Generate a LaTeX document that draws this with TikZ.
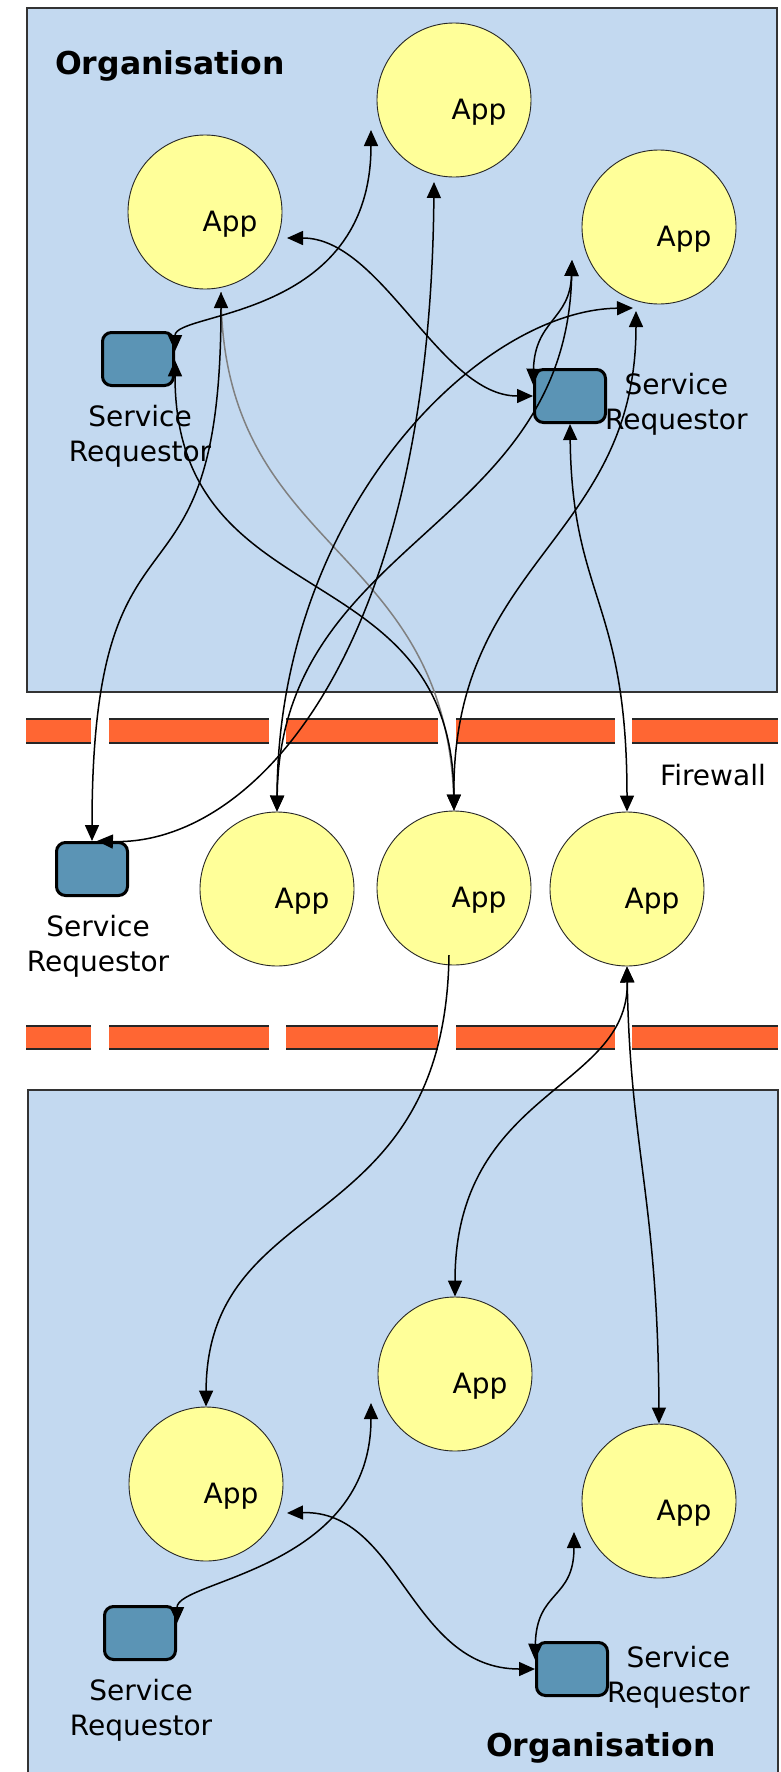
\documentclass[tikz,border=0pt]{standalone}
\usepackage{fontspec}
\setmainfont{DejaVu Sans}
\usetikzlibrary{arrows.meta,positioning}
\definecolor{orgblue}{RGB}{195,217,240}
\definecolor{appyellow}{RGB}{255,255,153}
\definecolor{reqblue}{RGB}{91,148,181}
\definecolor{wallred}{RGB}{255,102,51}
\begin{document}
\begin{tikzpicture}[x=1pt,y=-1pt,
    app/.style={circle,draw=black!85,line width=0.9pt,fill=appyellow,minimum size=154pt,inner sep=0pt,
        label={[font=\fontsize{28}{34}\selectfont,xshift=25pt,yshift=-12pt]center:App}},
    req/.style={rectangle,rounded corners=9pt,draw=black,line width=3pt,fill=reqblue,
        minimum width=71pt,minimum height=53pt,inner sep=0pt},
    reqtext/.style={align=center,inner sep=0pt,font=\fontsize{28}{35}\selectfont},
    orgtext/.style={inner sep=0pt,font=\fontsize{31.5}{36}\selectfont\bfseries},
    link/.style={line width=1.5pt,{Triangle[length=16pt,width=14pt]}-{Triangle[length=16pt,width=14pt]}},
    onelink/.style={line width=1.5pt,-{Triangle[length=16pt,width=14pt]}},
    grayline/.style={line width=1.5pt,draw=black!50}]
    \useasboundingbox (0,0) rectangle (780,1772);
    \fill[white] (0,0) rectangle (780,1772);
    % organisations
    \filldraw[fill=orgblue,draw=black!80,line width=1.2pt] (27,8) rectangle (777,692);
    \filldraw[fill=orgblue,draw=black!80,line width=1.2pt] (28,1090) rectangle (778,1800);
    % firewall
    \foreach \xa/\xb in {26/91,109/269,286/438,456/615,632/778}{
        \fill[wallred] (\xa,719) rectangle (\xb,743);
        \draw[line width=1.2pt,black!85] (\xa,719) -- (\xb,719) (\xa,743) -- (\xb,743);
        \fill[wallred] (\xa,1026) rectangle (\xb,1049);
        \draw[line width=1.2pt,black!85] (\xa,1026) -- (\xb,1026) (\xa,1049) -- (\xb,1049);
    }
    \node[reqtext,anchor=base west] (fw) at (660,785) {Firewall};
    \node[orgtext,anchor=base west] (orgtop) at (55,74) {Organisation};
    \node[orgtext,anchor=base west] (orgbot) at (486,1756) {Organisation};

    \node[app] (a1) at (205,212) {};
    \node[app] (a2) at (454,100) {};
    \node[app] (a3) at (659,227) {};
    \node[app] (m1) at (277,889) {};
    \node[app] (m2) at (454,888) {};
    \node[app] (m3) at (627,889) {};
    \node[app] (b1) at (206,1484) {};
    \node[app] (b2) at (455,1374) {};
    \node[app] (b3) at (659,1501) {};

    \node[req] (sr1) at (138,359) {};
    \node[req] (sr2) at (570,396) {};
    \node[req] (sr3) at (92,869) {};
    \node[req] (sr4) at (140,1633) {};
    \node[req] (sr5) at (572,1669) {};
    \node[reqtext,below=18pt of sr1,xshift=2pt] (sr1t) {Service\\Requestor};
    \node[reqtext,right=-2pt of sr2,yshift=-8pt] (sr2t) {Service\\Requestor};
    \node[reqtext,below=18pt of sr3,xshift=6pt] (sr3t) {Service\\Requestor};
    \node[reqtext,below=18pt of sr4,xshift=1pt] (sr4t) {Service\\Requestor};
    \node[reqtext,right=-2pt of sr5,yshift=-8pt] (sr5t) {Service\\Requestor};

    % arrow ends beside the apps
    \coordinate (a1s) at ([shift={(16,80)}]a1.center);
    \coordinate (a1e) at ([shift={(82,26)}]a1.center);
    \coordinate (a2sw) at ([shift={(-83,30)}]a2.center);
    \coordinate (a2s) at ([shift={(-20,82)}]a2.center);
    \coordinate (a3w) at ([shift={(-87,33)}]a3.center);
    \coordinate (a3s) at ([shift={(-26,81)}]a3.center);
    \coordinate (a3ss) at ([shift={(-23,84)}]a3.center);
    \coordinate (m2s) at ([shift={(-5,67)}]m2.center);
    \coordinate (b1e) at ([shift={(81,29)}]b1.center);
    \coordinate (b2sw) at ([shift={(-84,29)}]b2.center);
    \coordinate (b3sw) at ([shift={(-85,31)}]b3.center);

    \draw[grayline] (a1s) .. controls +(0,268) and +(-2,-271) .. (m2.north);
    \draw[link] (sr1.12) .. controls +(0,-40) and +(0,190) .. (a2sw);
    \draw[link] (sr1.-2) .. controls +(0,260) and +(-2,-261) .. (m2.north);
    \draw[link] (a1s) .. controls +(0,348) and +(0,-370) .. (sr3.north);
    \draw[link] (a2s) .. controls +(-4,478) and +(153,5) .. (sr3.80);
    \draw[link] (a1e) .. controls +(95,0) and +(-93,0) .. (sr2.west);
    \draw[link] (a3w) .. controls +(-2,60) and +(2,-65) .. (sr2.163);
    \draw[link] (a3w) .. controls +(-6,270) and +(3,-272) .. (m1.north);
    \draw[link] (a3s) .. controls +(-153,2) and +(1,-302) .. (m1.north);
    \draw[link] (a3ss) .. controls +(0,229) and +(-2,-251) .. (m2.north);
    \draw[link] (sr2.south) .. controls +(2,175) and +(0,-212) .. (m3.north);

    \draw[onelink] (m2s) .. controls +(-4,285) and +(1,-217) .. (b1.north);
    \draw[link] (m3.south) .. controls +(2,124) and +(0,-207) .. (b2.north);
    \draw[link] (m3.south) .. controls +(3,184) and +(-1,-224) .. (b3.north);
    \draw[link] (b1e) .. controls +(113,-3) and +(-125,0) .. (sr5.west);
    \draw[link] (sr4.15) .. controls +(0,-43) and +(0,167) .. (b2sw);
    \draw[link] (b3sw) .. controls +(0,68) and +(1.5,-70) .. (sr5.166);
\end{tikzpicture}
\end{document}
